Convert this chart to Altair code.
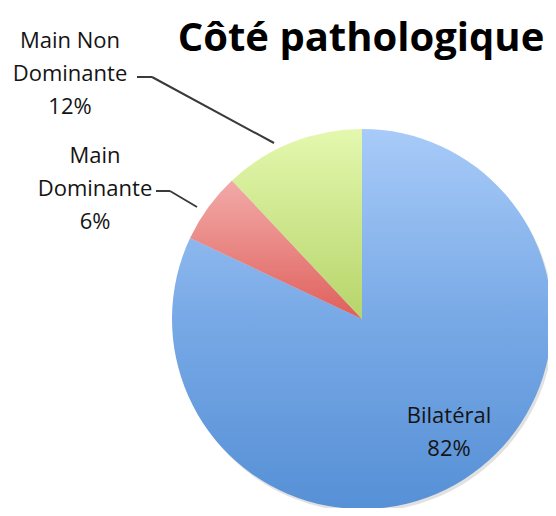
import altair as alt
import pandas as pd

# Data
categories = ["Bilatéral", "Main Dominante", "Main Non Dominante"]
labels = ["Bilatéral", "Main\nDominante", "Main Non\nDominante"]
values = [82, 6, 12]
order = [0, 1, 2]

df = pd.DataFrame({"cat": categories, "label": labels, "value": values, "order": order})

W, H = 540, 500
CX, CY, R = 354, 311, 190

gradients = {
    "Bilatéral": ["#a8cbf8", "#78a9e6", "#5690d6"],
    "Main Dominante": ["#f2aaa8", "#e98683", "#df5f5a"],
    "Main Non Dominante": ["#e4f8ae", "#cde68c", "#b6d56a"],
}

def grad(stops):
    n = len(stops) - 1
    return alt.LinearGradient(
        gradient="linear", x1=0, y1=0, x2=0, y2=1,
        stops=[alt.GradientStop(offset=i / n, color=c) for i, c in enumerate(stops)],
    )

base = alt.Chart(df).transform_window(
    cum="sum(value)", sort=[alt.SortField("order")], frame=[None, 0]
).transform_calculate(start="datum.cum - datum.value")

theta_scale = alt.Scale(domain=[0, 100])

blank = alt.Data(values=[{"a": 1}])

shadow = alt.Chart(blank).mark_arc(radius=R, color="#c8c8c8", opacity=0.55).encode(
    x=alt.value(CX + 2), y=alt.value(CY + 3),
    theta=alt.value(0), theta2=alt.value(6.2832),
)

arcs = []
for c in categories:
    arcs.append(
        base.transform_filter(alt.datum.cat == c).mark_arc(
            radius=R, color=grad(gradients[c])
        ).encode(
            x=alt.value(CX), y=alt.value(CY),
            theta=alt.Theta("start:Q", scale=theta_scale),
            theta2="cum:Q",
        )
    )

label_pos = {
    "Bilatéral": (441, 415),
    "Main Dominante": (87, 155),
    "Main Non Dominante": (62, 40),
}

texts = []
for c in categories:
    x, y = label_pos[c]
    texts.append(
        alt.Chart(df).transform_filter(alt.datum.cat == c).transform_calculate(
            txt="datum.label + '\\n' + datum.value + '%'"
        ).mark_text(
            font="Open Sans", fontSize=22, color="#141414", align="center",
            baseline="alphabetic", lineBreak="\n", lineHeight=33,
        ).encode(x=alt.value(x), y=alt.value(y), text="txt:N")
    )

def seg(x1, y1, x2, y2):
    return alt.Chart(blank).mark_rule(color="#3a3a3a", strokeWidth=2).encode(
        x=alt.value(x1), y=alt.value(y1), x2=alt.value(x2), y2=alt.value(y2)
    )

leaders = [
    seg(129, 69, 144, 69), seg(144, 69, 266, 135),
    seg(148, 183, 162, 183), seg(162, 183, 189, 199),
]

title = alt.Chart(blank).mark_text(
    text="Côté pathologique", font="Open Sans", fontSize=40, fontWeight="bold",
    color="#000000", align="center", baseline="alphabetic",
).encode(x=alt.value(353), y=alt.value(43))

chart = alt.layer(shadow, *arcs, *leaders, *texts, title).properties(
    width=W, height=H, padding=0, autosize=alt.AutoSizeParams(type="none")
).configure_view(stroke=None)

chart.save("out.html", embed_options={"renderer": "svg", "actions": False})
